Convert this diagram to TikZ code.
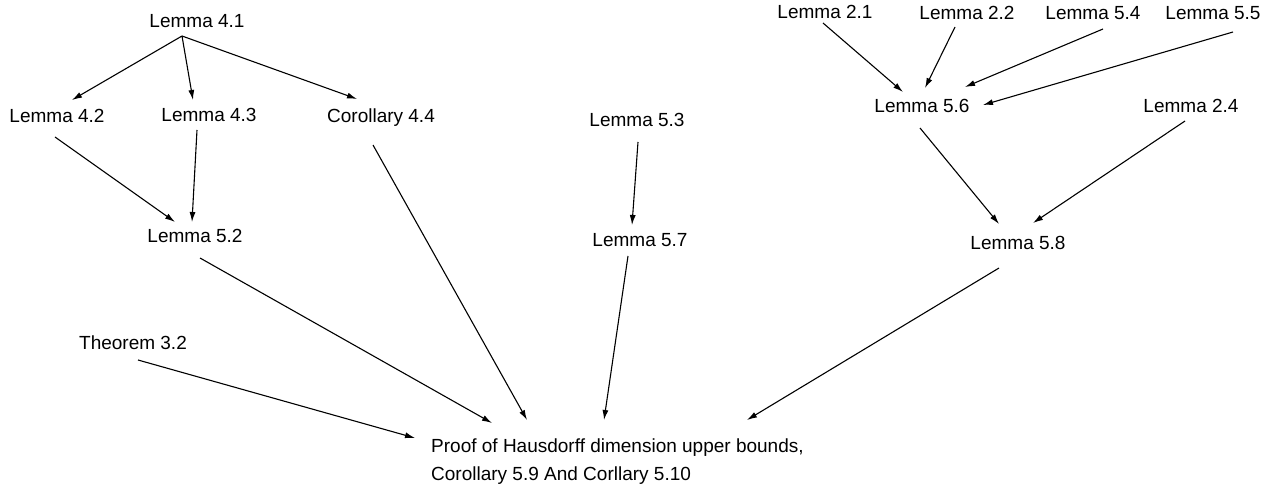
\documentclass[tikz,border=0pt]{standalone}
\usepackage{fontspec}
\setmainfont{Liberation Sans}
\usetikzlibrary{arrows.meta}
\begin{document}
\begin{tikzpicture}[x=1pt,y=-1pt,
  lbl/.style={inner sep=0pt,anchor=base,font=\fontsize{19}{28}\selectfont},
  conn/.style={line width=1.1pt,-{Latex[length=10pt,width=6pt]}}]
\useasboundingbox (0,0) rectangle (1278,489);
\node[lbl] (l41) at (197,28) {Lemma 4.1};
\node[lbl] (l42) at (57,123) {Lemma 4.2};
\node[lbl] (l43) at (209,122) {Lemma 4.3};
\node[lbl] (c44) at (381,123) {Corollary 4.4};
\node[lbl] (l52) at (195,243) {Lemma 5.2};
\node[lbl] (l53) at (637,127) {Lemma 5.3};
\node[lbl] (l57) at (640,247) {Lemma 5.7};
\node[lbl] (t32) at (133,349) {Theorem 3.2};
\node[lbl] (l21) at (825,19) {Lemma 2.1};
\node[lbl] (l22) at (967,20) {Lemma 2.2};
\node[lbl] (l54) at (1093,20) {Lemma 5.4};
\node[lbl] (l55) at (1213,20) {Lemma 5.5};
\node[lbl] (l56) at (922,113) {Lemma 5.6};
\node[lbl] (l24) at (1191,113) {Lemma 2.4};
\node[lbl] (l58) at (1018,250) {Lemma 5.8};
\node[lbl,anchor=base west] (pf) at (431,452) {\fontsize{19}{28}\selectfont\begin{tabular}[t]{@{}l@{}}Proof of Hausdorff dimension upper bounds,\\Corollary 5.9 And Corllary 5.10\end{tabular}};
\draw[conn] ([shift={(-15,8)}]l41.base) -- ([shift={(15,-23)}]l42.base);
\draw[conn] ([shift={(-15,8)}]l41.base) -- ([shift={(-16,-22)}]l43.base);
\draw[conn] ([shift={(-15,8)}]l41.base) -- ([shift={(-24,-24)}]c44.base);
\draw[conn] ([shift={(-2,14)}]l42.base) -- ([shift={(-20,-21)}]l52.base);
\draw[conn] ([shift={(-12,8)}]l43.base) -- ([shift={(-3,-21)}]l52.base);
\draw[conn] ([shift={(5,15)}]l52.base) -- ([shift={(61,-29)}]pf.base west);
\draw[conn] ([shift={(-8,22)}]c44.base) -- ([shift={(96,-32)}]pf.base west);
\draw[conn] ([shift={(1,15)}]l53.base) -- ([shift={(-8,-22)}]l57.base);
\draw[conn] ([shift={(-12,9)}]l57.base) -- ([shift={(173,-32)}]pf.base west);
\draw[conn] ([shift={(5,11)}]t32.base) -- ([shift={(-16,-14)}]pf.base west);
\draw[conn] ([shift={(-19,18)}]l58.base) -- ([shift={(316,-32)}]pf.base west);
\draw[conn] ([shift={(-2,4)}]l21.base) -- ([shift={(-19,-21)}]l56.base);
\draw[conn] ([shift={(-12,7)}]l22.base) -- ([shift={(3,-25)}]l56.base);
\draw[conn] ([shift={(10,9)}]l54.base) -- ([shift={(43,-26)}]l56.base);
\draw[conn] ([shift={(20,12)}]l55.base) -- ([shift={(61,-8)}]l56.base);
\draw[conn] ([shift={(-2,15)}]l56.base) -- ([shift={(-19,-26)}]l58.base);
\draw[conn] ([shift={(-6,8)}]l24.base) -- ([shift={(15,-27)}]l58.base);
\end{tikzpicture}
\end{document}
